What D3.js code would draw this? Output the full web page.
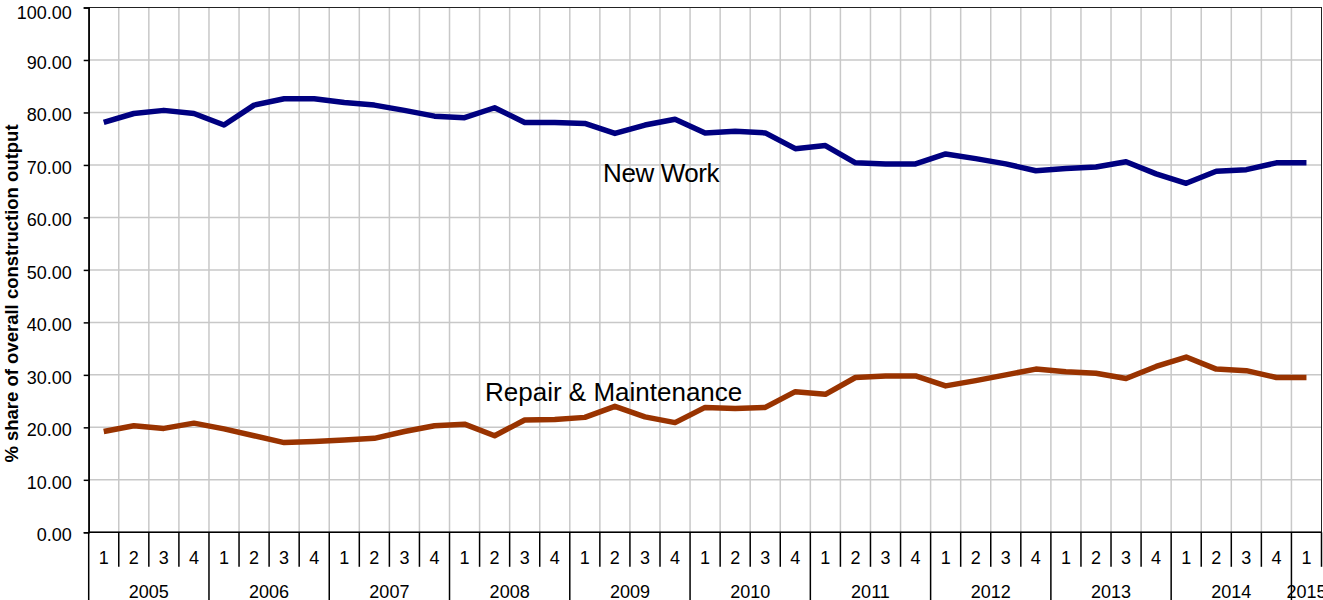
<!DOCTYPE html>
<html>
<head>
<meta charset="utf-8">
<script src="https://cdn.jsdelivr.net/npm/d3@7"></script>
<style>
  body { margin: 0; background: #fff; }
  svg { display: block; font-family: "Liberation Sans", Arial, sans-serif; }
</style>
</head>
<body>
<div id="chart"></div>
<script>
const years = ['2005', '2006', '2007', '2008', '2009', '2010', '2011', '2012', '2013', '2014', '2015'];
const quarters = [
  '2005-1', '2005-2', '2005-3', '2005-4', '2006-1', '2006-2', '2006-3', '2006-4',
  '2007-1', '2007-2', '2007-3', '2007-4', '2008-1', '2008-2', '2008-3', '2008-4',
  '2009-1', '2009-2', '2009-3', '2009-4', '2010-1', '2010-2', '2010-3', '2010-4',
  '2011-1', '2011-2', '2011-3', '2011-4', '2012-1', '2012-2', '2012-3', '2012-4',
  '2013-1', '2013-2', '2013-3', '2013-4', '2014-1', '2014-2', '2014-3', '2014-4',
  '2015-1'
];
const newWork = [
  78.1, 79.8, 80.4, 79.8, 77.6, 81.4, 82.6, 82.6,
  81.9, 81.4, 80.4, 79.3, 79.0, 80.9, 78.1, 78.1,
  77.9, 76.0, 77.6, 78.7, 76.1, 76.4, 76.1, 73.1,
  73.7, 70.4, 70.2, 70.2, 72.1, 71.2, 70.2, 68.9,
  69.3, 69.6, 70.6, 68.3, 66.5, 68.8, 69.1, 70.4,
  70.4
];
const repair = [
  19.2, 20.3, 19.8, 20.8, 19.7, 18.4, 17.1, 17.3,
  17.6, 17.9, 19.2, 20.3, 20.6, 18.4, 21.4, 21.5,
  21.9, 24.0, 22.0, 20.9, 23.8, 23.6, 23.8, 26.8,
  26.3, 29.5, 29.8, 29.8, 27.9, 28.9, 30.0, 31.1,
  30.6, 30.3, 29.3, 31.6, 33.4, 31.1, 30.8, 29.5,
  29.5
];
const yTicks = [0, 10, 20, 30, 40, 50, 60, 70, 80, 90, 100];

const width = 1323;
const height = 600;
const margin = { top: 7.5, right: 1.5, bottom: 67.7, left: 88.7 };
const plotW = width - margin.left - margin.right;
const plotH = height - margin.top - margin.bottom;

const svg = d3.select('#chart').append('svg')
  .attr('width', width)
  .attr('height', height);

const x = d3.scaleBand().domain(quarters).range([0, plotW]).padding(0);
const y = d3.scaleLinear().domain([0, 100]).range([plotH, 0]);
const bw = x.bandwidth();
const cx = q => x(q) + bw / 2;

const g = svg.append('g').attr('transform', `translate(${margin.left},${margin.top})`);

// grid
g.append('g')
  .selectAll('line')
  .data(yTicks.filter(t => t > 0 && t < 100))
  .join('line')
  .attr('x1', 0).attr('x2', plotW)
  .attr('y1', d => y(d)).attr('y2', d => y(d))
  .attr('stroke', '#c8c8c8').attr('stroke-width', 1.5);

g.append('g')
  .selectAll('line')
  .data(quarters.slice(1))
  .join('line')
  .attr('x1', d => x(d)).attr('x2', d => x(d))
  .attr('y1', 0).attr('y2', plotH)
  .attr('stroke', '#c8c8c8').attr('stroke-width', 1.5);

// plot frame
g.append('rect')
  .attr('x', 0).attr('y', 0)
  .attr('width', plotW).attr('height', plotH)
  .attr('fill', 'none').attr('stroke', '#222').attr('stroke-width', 1);

// y axis
const yAxis = g.append('g')
  .call(d3.axisLeft(y).tickValues(yTicks).tickSize(5).tickPadding(12).tickFormat(d3.format('.2f')));
yAxis.select('.domain').attr('stroke', '#000').attr('stroke-width', 1.5);
yAxis.selectAll('.tick line').attr('stroke', '#000').attr('stroke-width', 1.5);
yAxis.selectAll('text')
  .attr('font-size', 18).attr('fill', '#000')
  .attr('font-family', '"Liberation Sans", Arial, sans-serif')
  .attr('dy', d => d === 100 ? '0.6em' : '0.47em');

svg.append('text')
  .attr('transform', `translate(18,${margin.top + 286}) rotate(-90)`)
  .attr('text-anchor', 'middle')
  .attr('font-size', 18.5)
  .attr('font-weight', 'bold')
  .text('% share of overall construction output');

// category axis: quarters row
const xAxis = g.append('g').attr('transform', `translate(0,${plotH})`);
xAxis.append('line')
  .attr('x1', 0).attr('x2', plotW)
  .attr('stroke', '#000').attr('stroke-width', 1.5);

xAxis.selectAll('.qdiv')
  .data(quarters.concat(['end']))
  .join('line')
  .attr('class', 'qdiv')
  .attr('x1', d => d === 'end' ? plotW : x(d))
  .attr('x2', d => d === 'end' ? plotW : x(d))
  .attr('y1', 0)
  .attr('y2', d => (d !== 'end' && d.endsWith('-1')) ? margin.bottom : 34.5)
  .attr('stroke', '#000').attr('stroke-width', 1.5);

xAxis.selectAll('.qlab')
  .data(quarters)
  .join('text')
  .attr('class', 'qlab')
  .attr('x', d => cx(d))
  .attr('y', 31.5)
  .attr('text-anchor', 'middle')
  .attr('font-size', 18)
  .text(d => d.split('-')[1]);

xAxis.selectAll('.ylab')
  .data(years)
  .join('text')
  .attr('class', 'ylab')
  .attr('x', yr => {
    const qs = quarters.filter(q => q.startsWith(yr));
    return (x(qs[0]) + x(qs[qs.length - 1]) + bw) / 2;
  })
  .attr('y', 66)
  .attr('text-anchor', 'middle')
  .attr('font-size', 18)
  .text(d => d);

// lines
const line = d3.line()
  .x((d, i) => cx(quarters[i]))
  .y(d => y(d));

g.append('path')
  .datum(newWork)
  .attr('d', line)
  .attr('fill', 'none')
  .attr('stroke', '#000080')
  .attr('stroke-width', 5.5)
  .attr('stroke-linejoin', 'round');

g.append('path')
  .datum(repair)
  .attr('d', line)
  .attr('fill', 'none')
  .attr('stroke', '#993300')
  .attr('stroke-width', 5.5)
  .attr('stroke-linejoin', 'round');

// labels
svg.append('text')
  .attr('x', 603).attr('y', 181.5)
  .attr('font-size', 26)
  .attr('letter-spacing', -0.4)
  .text('New Work');

svg.append('text')
  .attr('x', 485).attr('y', 400.5)
  .attr('font-size', 26)
  .text('Repair & Maintenance');
</script>
</body>
</html>
